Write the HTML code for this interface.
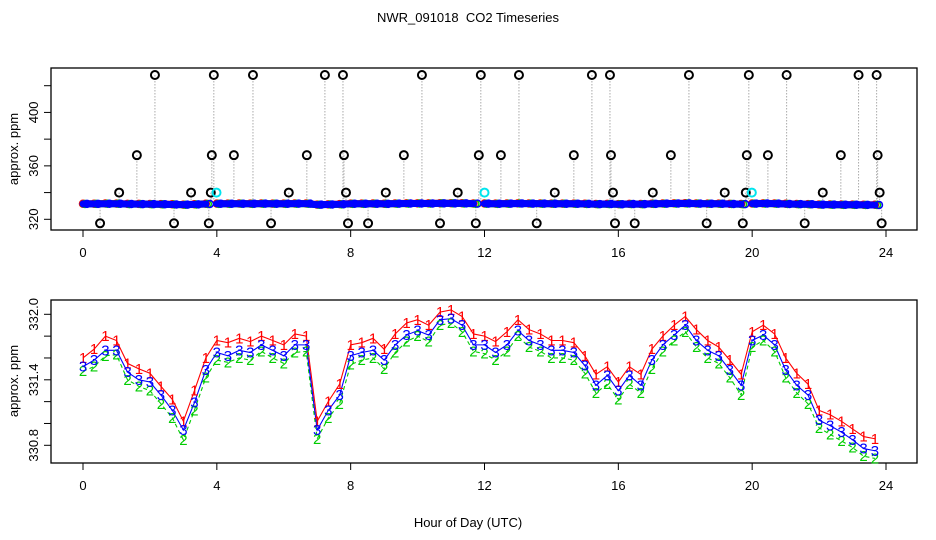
<!DOCTYPE html>
<html><head><meta charset="utf-8"><style>
html,body{margin:0;padding:0;background:#fff;}
svg{display:block;font-family:"Liberation Sans",sans-serif;}
</style></head><body>
<svg id="chart" width="936" height="540" viewBox="0 0 936 540" xmlns="http://www.w3.org/2000/svg">
<rect width="936" height="540" fill="#fff"/>
<text x="468" y="22" text-anchor="middle" font-size="13">NWR_091018&#160; CO2 Timeseries</text>
<text x="468" y="527" text-anchor="middle" font-size="13">Hour of Day (UTC)</text>
<text transform="translate(18,149) rotate(-90)" text-anchor="middle" font-size="13">approx. ppm</text>
<text transform="translate(18,381) rotate(-90)" text-anchor="middle" font-size="13">approx. ppm</text>
<g id="topPanel"></g>
<g id="botPanel"></g>
</svg>
<script>
const hours = [0,0.33,0.67,1,1.33,1.67,2,2.33,2.67,3,3.33,3.67,4,4.33,4.67,5,5.33,5.67,6,6.33,6.67,7,7.33,7.67,8,8.33,8.67,9,9.33,9.67,10,10.33,10.67,11,11.33,11.67,12,12.33,12.67,13,13.33,13.67,14,14.33,14.67,15,15.33,15.67,16,16.33,16.67,17,17.33,17.67,18,18.33,18.67,19,19.33,19.67,20,20.33,20.67,21,21.33,21.67,22,22.33,22.67,23,23.33,23.67];
const series3 = [331.52,331.58,331.67,331.67,331.47,331.40,331.38,331.26,331.12,330.94,331.19,331.49,331.65,331.62,331.67,331.65,331.72,331.67,331.62,331.72,331.72,330.94,331.12,331.26,331.62,331.65,331.67,331.58,331.72,331.81,331.85,331.81,331.95,331.96,331.90,331.72,331.72,331.65,331.72,331.85,331.76,331.72,331.67,331.67,331.65,331.53,331.35,331.44,331.30,331.44,331.35,331.58,331.72,331.81,331.90,331.76,331.67,331.62,331.49,331.35,331.76,331.81,331.72,331.49,331.35,331.26,331.03,330.98,330.92,330.85,330.77,330.75];
const series1 = [331.60,331.68,331.80,331.76,331.55,331.50,331.46,331.34,331.22,331.02,331.30,331.60,331.76,331.74,331.78,331.75,331.80,331.76,331.72,331.82,331.80,331.02,331.20,331.36,331.72,331.74,331.78,331.68,331.82,331.92,331.95,331.90,332.02,332.04,331.98,331.82,331.80,331.75,331.84,331.95,331.86,331.82,331.76,331.76,331.74,331.62,331.45,331.52,331.38,331.52,331.45,331.68,331.80,331.90,331.98,331.86,331.76,331.70,331.58,331.45,331.84,331.90,331.82,331.60,331.46,331.36,331.12,331.08,331.02,330.95,330.88,330.86];
const series2 = [331.48,331.52,331.62,331.63,331.40,331.34,331.30,331.18,331.05,330.85,331.12,331.42,331.58,331.56,331.60,331.58,331.66,331.60,331.55,331.65,331.66,330.86,331.05,331.18,331.54,331.58,331.60,331.50,331.65,331.75,331.80,331.75,331.90,331.92,331.84,331.66,331.64,331.58,331.66,331.80,331.70,331.66,331.60,331.60,331.58,331.46,331.28,331.36,331.22,331.36,331.28,331.50,331.66,331.76,331.84,331.70,331.60,331.55,331.42,331.26,331.70,331.76,331.66,331.42,331.28,331.18,330.96,330.90,330.84,330.78,330.70,330.68];
const outlierHours = [0.51,1.08,1.61,2.15,2.72,3.23,3.76,3.82,3.85,3.91,4.51,5.08,5.62,6.15,6.69,7.23,7.77,7.80,7.86,7.92,8.52,9.05,9.59,10.13,10.67,11.20,11.74,11.83,11.89,12.49,13.03,13.56,14.10,14.67,15.21,15.75,15.78,15.84,15.90,16.49,17.03,17.57,18.11,18.64,19.18,19.72,19.81,19.84,19.90,20.47,21.03,21.57,22.11,22.65,23.18,23.72,23.75,23.81,23.87];
const outlierValues = [317,340,368,428,317,340,317,340,368,428,368,428,317,340,368,428,428,368,340,317,317,340,368,428,317,340,317,368,428,368,428,317,340,368,428,428,368,340,317,317,340,368,428,317,340,317,340,368,428,368,428,317,340,368,428,428,368,340,317];
const flagHours = [3.99,12.0,19.99];
const flagValues = [340,340,340];
const xTicks = [0,4,8,12,16,20,24];
const topYTicks = [320,340,360,380,400,420];
const topYLabels = [320,360,400];
const botYTicks = [330.8,331.0,331.2,331.4,331.6,331.8,332.0];
const botYLabels = ["330.8","331.4","332.0"];

const NS="http://www.w3.org/2000/svg";
function mk(parent,tag,attrs){const e=document.createElementNS(NS,tag);for(const k in attrs)e.setAttribute(k,attrs[k]);parent.appendChild(e);return e;}
const xs = h => 83 + h*(886-83)/24;
const yTop = v => 219.3 - (v-320)*(219.3-85.7)/100;
const yBot = v => 314.3 + (332.0-v)*(445.3-314.3)/1.2;

const topG=document.getElementById('topPanel'), botG=document.getElementById('botPanel');

function axes(g,y0,y1,yTicks,yLabs,yf){
  const box=mk(g,'rect',{x:51,y:y0,width:866,height:y1-y0,fill:'none',stroke:'#000','stroke-width':1.3});
  
  
  xTicks.forEach(t=>{
    const l=mk(g,'line',{x1:xs(t),x2:xs(t),y1:y1,y2:y1+7,stroke:'#000'});
    
    
    const tx=mk(g,'text',{x:xs(t),y:y1+27,'text-anchor':'middle','font-size':13});
    tx.textContent=t;
    
    
  });
  yTicks.forEach(t=>{
    const l=mk(g,'line',{x1:44,x2:51,y1:yf(t),y2:yf(t),stroke:'#000'});
    
    
  });
  yLabs.forEach(t=>{
    const tx=mk(g,'text',{transform:`translate(38,${yf(+t)}) rotate(-90)`,'text-anchor':'middle','font-size':13});
    tx.textContent=t;
    
    
  });
}
axes(topG,68,230,topYTicks,topYLabels,yTop);
axes(botG,300,463,botYTicks,botYLabels,yBot);

outlierHours.forEach((h,i)=>{
  const l=mk(topG,'line',{x1:xs(h),x2:xs(h),y1:yTop(outlierValues[i]),y2:yTop(333),stroke:'#aaa','stroke-width':1,'stroke-dasharray':'1.5,1.5'});
  
  
});
const cols=['#ff0000','#00cc00','#0000ff'];
[series1,series2,series3].forEach((s,k)=>{
  let segs=[[]];
  hours.forEach((h,i)=>{ if(i>0 && ((hours[i-1]<3.8&&h>=3.8)||(hours[i-1]<11.9&&h>=11.9)||(hours[i-1]<19.9&&h>=19.9))) segs.push([]); segs[segs.length-1].push(xs(h)+','+yTop(s[i])); });
  segs.forEach(sg=>{
    const p=mk(topG,'polyline',{points:sg.join(' '),fill:'none',stroke:cols[k],'stroke-width':7,'stroke-linecap':'round'});
    
    
  });
  hours.forEach((h,i)=>{
    const c=mk(topG,'circle',{cx:xs(h)+k*2,cy:yTop(s[i]),r:3.5,fill:'none',stroke:cols[k],'stroke-width':1.5});
    
    
  });
});
outlierHours.forEach((h,i)=>{
  const c=mk(topG,'circle',{cx:xs(h),cy:yTop(outlierValues[i]),r:4,fill:'none',stroke:'#000','stroke-width':2});
  
  
});
flagHours.forEach((h,i)=>{
  const c=mk(topG,'circle',{cx:xs(h),cy:yTop(flagValues[i]),r:4,fill:'none',stroke:'#00e5ee','stroke-width':2});
  
  
});

const dashes=['none','4,3','none'];
[series1,series2,series3].forEach((s,k)=>{
  const pts=hours.map((h,i)=>xs(h)+','+yBot(s[i])).join(' ');
  const p=mk(botG,'polyline',{points:pts,fill:'none',stroke:cols[k],'stroke-width':1.1,'stroke-dasharray':dashes[k]});
  
  
});
[series1,series2,series3].forEach((s,k)=>{
  hours.forEach((h,i)=>{
    const t=mk(botG,'text',{x:xs(h),y:yBot(s[i])+5,'text-anchor':'middle','font-size':15,fill:cols[k]});
    t.textContent=String(k+1);
    
    
  });
});
</script>
</body></html>
